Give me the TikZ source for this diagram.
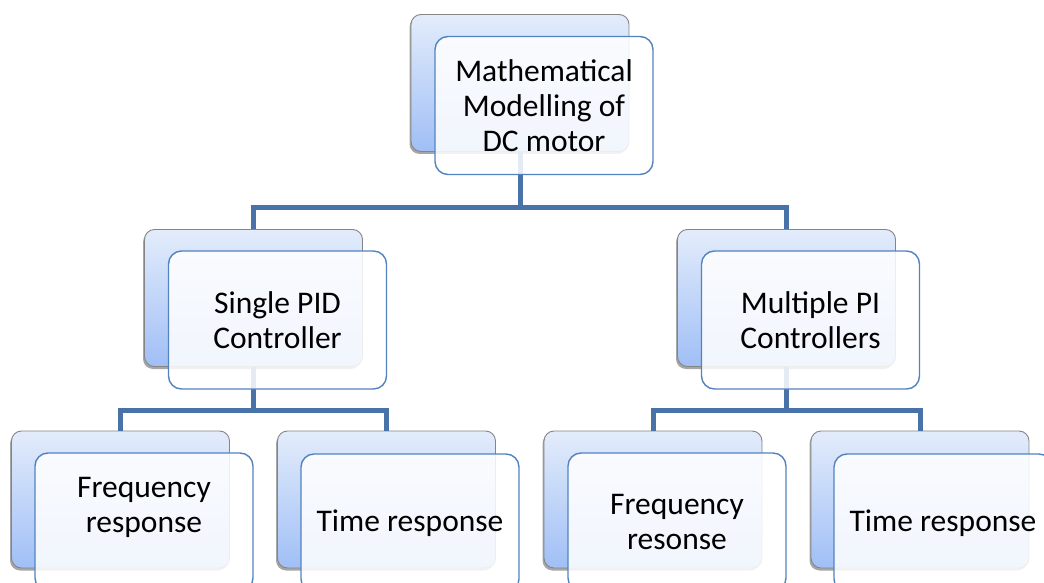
\documentclass[tikz,border=0pt]{standalone}
\usepackage{fontspec}
\setmainfont{Carlito}
\usetikzlibrary{shadows}
\definecolor{connblue}{HTML}{4872A8}
\definecolor{frontedge}{HTML}{5383BE}
\definecolor{backedge}{HTML}{858585}
\definecolor{backtop}{HTML}{E3ECFB}
\definecolor{backbot}{HTML}{A0BFF6}
\begin{document}
\begin{tikzpicture}[x=1pt,y=-1pt,
  conn/.style={draw=connblue,line width=5pt},
  backbox/.style={draw=backedge,line width=0.9pt,rounded corners=10pt,
    top color=backtop,bottom color=backbot,
    minimum width=218pt,minimum height=137pt,inner sep=0pt,
    drop shadow={shadow xshift=-1.5pt,shadow yshift=-2.5pt,opacity=0.35,fill=black}},
  frontbox/.style={draw=frontedge,line width=1.4pt,rounded corners=13pt,
    fill=white,fill opacity=0.86,text opacity=1,
    minimum width=218pt,minimum height=138pt,inner sep=0pt,
    align=center,font=\fontsize{31.5}{35}\selectfont}]
\useasboundingbox (0,0) rectangle (1044,583);

% junctions of the tree
\coordinate (j1) at (520,207);
\coordinate (j2) at (253.5,410);
\coordinate (j3) at (786.5,410);

% back cards
\node[backbox] (topB) at (520,83) {};
\node[backbox] (midLB) at (253.5,298) {};
\node[backbox] (midRB) at (786.5,298) {};
\node[backbox] (b1B) at (120.5,499.5) {};
\node[backbox] (b2B) at (386.5,499.5) {};
\node[backbox] (b3B) at (653,499.5) {};
\node[backbox] (b4B) at (920,499.5) {};

% connectors
\draw[conn] (topB.south) -- (j1) -| (midLB.north);
\draw[conn] (j1) -| (midRB.north);
\draw[conn] (midLB.south) -- (j2) -| (b1B.north);
\draw[conn] (j2) -| (b2B.north);
\draw[conn] (midRB.south) -- (j3) -| (b3B.north);
\draw[conn] (j3) -| (b4B.north);

% front cards with the labels
\node[frontbox] (topF) at (544,105.5) {Mathematical\\Modelling of\\DC motor};
\node[frontbox] (midLF) at (277.5,320) {Single PID\\Controller};
\node[frontbox] (midRF) at (810.5,320) {Multiple PI\\Controllers};
\node[frontbox] (b1F) at (144,522) {Frequency\\response\\\mbox{}};
\node[frontbox] (b2F) at (410,523) {Time response};
\node[frontbox] (b3F) at (677,522) {Frequency\\resonse};
\node[frontbox] (b4F) at (943,523) {Time response};
\end{tikzpicture}
\end{document}
